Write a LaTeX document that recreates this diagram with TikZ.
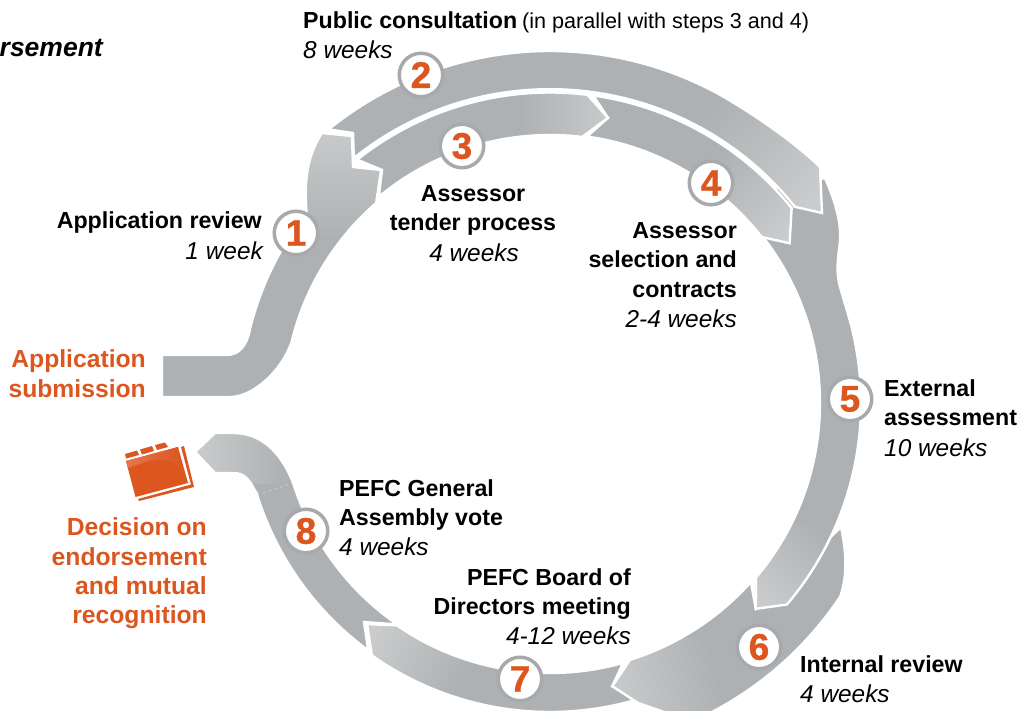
\documentclass[tikz,border=0pt]{standalone}
\usepackage{fontspec}
\setmainfont{Liberation Sans}
\newfontfamily\numfont[FakeBold=1]{Liberation Sans Bold}
\definecolor{band}{HTML}{AEB1B3}
\definecolor{bandlight}{HTML}{C9CBCC}
\definecolor{ringc}{HTML}{A7A9AC}
\definecolor{pefc}{HTML}{DC5620}
\tikzset{
  stepnum/.style={circle,draw=ringc,line width=3.5pt,fill=white,minimum size=43.5pt,inner sep=0pt,text=pefc,font=\fontsize{37}{37}\selectfont\numfont},
  ttl/.style={inner sep=0pt,font=\fontsize{23.2}{23.2}\selectfont\bfseries,text=black},
  dur/.style={inner sep=0pt,font=\fontsize{24.4}{24.4}\selectfont\itshape,text=black},
  org/.style={inner sep=0pt,font=\fontsize{24.7}{24.7}\selectfont\bfseries,text=pefc},
  gap/.style={draw=white,line width=2.4pt,line join=miter}
}
\newcommand{\bandseg}[4]{%
  \begin{scope}
    \clip #1;
    \fill[band] (-600,-450) rectangle (600,450);
    \shade[bottom color=bandlight,top color=band,shading angle=#4] #2 rectangle #3;
  \end{scope}
  \draw[gap] #1;
}
\begin{document}
\begin{tikzpicture}[x=1pt,y=-1pt]
\clip (0,0) rectangle (1024,711);
\fill[white] (0,0) rectangle (1024,711);

% Band shapes: origin at the centre of the ring; polar angles run clockwise on screen
\begin{scope}[shift={(550,403)}]
% segment 8
\bandseg{(124.6:269) arc[start angle=124.6,end angle=162.7,radius=269] .. controls (-270,47) and (-290,30) .. (-317,30) -- (-335,30) -- (-355,49) -- (-335,70) -- (-317,70) .. controls (-305,70) and (-300,77) .. (-293,92) -- (162.6:307) arc[start angle=162.6,end angle=126.3,radius=307] -- (-186,219) -- cycle}{(-355,25)}{(-265,80)}{-90}
% segment 7
\bandseg{(74.3:270) arc[start angle=74.3,end angle=124.6,radius=270] -- (129.6:287) -- (125.2:309) arc[start angle=125.2,end angle=73.8,radius=309] -- (77.6:290) -- cycle}{(-188,215)}{(-80,300)}{-120}
% segment 6
\bandseg{(291,124) .. controls (296,147) and (298,172) .. (290,194) arc[start angle=33.8,end angle=66,radius=349] -- (88,300) -- (77.6:290) -- (72.7:269) arc[start angle=72.7,end angle=41.7,radius=269] -- (45:291) -- cycle}{(56,235)}{(170,325)}{-75}
% segment 5
\bandseg{(275,-225) .. controls (287,-198) and (291,-178) .. (290,-163) .. controls (289,-148) and (285,-135) .. (290,-116) -- (344:311) arc[start angle=344,end angle=400.4,radius=311] -- (45:291) -- (40.3:270) arc[start angle=40.3,end angle=-40,radius=270] -- (-45:300) -- cycle}{(200,120)}{(290,212)}{-45}
% segment 2
\bandseg{(231:352) arc[start angle=231,end angle=300,radius=352] .. controls (206,-287) and (243,-262) .. (270,-236) -- (272,-190) -- (321.3:313.8) arc[start angle=321.3,end angle=231.3,radius=313.8] -- (-197,-270) -- cycle}{(140,-313)}{(280,-183)}{45}
% segment 4
\bandseg{(278:310.5) arc[start angle=278,end angle=321.1,radius=310.5] -- (326.3:288) -- (321.9:269) arc[start angle=321.9,end angle=277.9,radius=269] -- (281.5:291) -- cycle}{(140,-253)}{(250,-153)}{45}
% segment 3
\bandseg{(231.6:310.5) arc[start angle=231.6,end angle=276.9,radius=310.5] -- (281.5:291) -- (276.9:268) arc[start angle=276.9,end angle=230.3,radius=268] -- (-168,-233) -- cycle}{(-30,-313)}{(62,-263)}{90}
% segment 1
\bandseg{(-388,-48) -- (-324,-48) .. controls (-310,-48) and (-303,-58) .. (194:309) arc[start angle=194,end angle=218,radius=309] .. controls (-245,-213) and (-246,-243) .. (-228,-270) -- (-198,-267) -- (-197,-236) -- (-169,-233) -- (229:265) arc[start angle=229,end angle=193.6,radius=268] .. controls (-267,-35) and (-295,-6) .. (-320,-6) -- (-388,-6) -- cycle}{(-250,-278)}{(-165,-163)}{180}
% faint seam in segment 8
\draw[white,opacity=.45,line width=.5pt,dashed] (-293,92) -- (-257,80);
\end{scope}

% step circles
\node[stepnum] (n1) at (296,233) {1};
\node[stepnum] (n2) at (421,75) {2};
\node[stepnum] (n3) at (462,146) {3};
\node[stepnum] (n4) at (711,183) {4};
\node[stepnum] (n5) at (850,399) {5};
\node[stepnum] (n6) at (759,647) {6};
\node[stepnum] (n7) at (520,679) {7};
\node[stepnum] (n8) at (306,531) {8};

% folder
\fill[pefc] (181,447) -- (184,446) -- (194,487) -- (139,501) -- (138,499) -- (191,484.5) -- cycle;
\fill[pefc] (126,461) -- (178,447) -- (188,483) -- (135.5,497) -- cycle;
\fill[pefc] (125,454) -- (137,450.5) -- (139,455) -- (126,458.5) -- cycle;
\fill[pefc] (140,449.5) -- (152,446) -- (154,451) -- (142,454.5) -- cycle;
\fill[pefc] (155,445) -- (165,442.5) -- (168,447) -- (157,450) -- cycle;
\begin{scope}
\clip (126,461) -- (178,447) -- (182,470) .. controls (168,452) and (145,462) .. (128,468) -- cycle;
\shade[left color=pefc!80!white,right color=pefc] (125,440) rectangle (182,475);
\end{scope}

% labels
\node[anchor=base east,inner sep=0pt,font=\fontsize{26.5}{26.5}\selectfont\bfseries\itshape] (t0) at (103,57) {rsement};
\node[ttl,anchor=base west] (t2) at (303,29) {Public consultation};
\node[inner sep=0pt,anchor=base west,font=\fontsize{21.6}{21.6}\selectfont] (t2b) at (522,29) {(in parallel with steps 3 and 4)};
\node[dur,anchor=base west] (d2) at (303,59) {8 weeks};
\node[ttl,anchor=base east] (t1) at (262,229) {Application review};
\node[dur,anchor=base east] (d1) at (263,259) {1 week};
\node[ttl,anchor=base] (t3a) at (473,202) {Assessor};
\node[ttl,anchor=base] (t3b) at (473,231) {tender process};
\node[dur,anchor=base] (d3) at (474,261) {4 weeks};
\node[ttl,anchor=base east] (t4a) at (737,238) {Assessor};
\node[ttl,anchor=base east] (t4b) at (737,267) {selection and};
\node[ttl,anchor=base east] (t4c) at (737,297) {contracts};
\node[dur,anchor=base east] (d4) at (737,327) {2-4 weeks};
\node[ttl,anchor=base west] (t5a) at (884,396) {External};
\node[ttl,anchor=base west] (t5b) at (884,425) {assessment};
\node[dur,anchor=base west] (d5) at (884,456) {10 weeks};
\node[ttl,anchor=base west] (t6) at (800,672) {Internal review};
\node[dur,anchor=base west] (d6) at (800,702) {4 weeks};
\node[ttl,anchor=base east] (t7a) at (631,585) {PEFC Board of};
\node[ttl,anchor=base east] (t7b) at (631,614) {Directors meeting};
\node[dur,anchor=base east] (d7) at (631,644) {4-12 weeks};
\node[ttl,anchor=base west] (t8a) at (339,496) {PEFC General};
\node[ttl,anchor=base west] (t8b) at (339,525) {Assembly vote};
\node[dur,anchor=base west] (d8) at (339,555) {4 weeks};
\node[org,anchor=base east] (o1) at (146,367) {Application};
\node[org,anchor=base east] (o2) at (146,397) {submission};
\node[org,anchor=base east] (o3) at (207,535) {Decision on};
\node[org,anchor=base east] (o4) at (207,565) {endorsement};
\node[org,anchor=base east] (o5) at (207,594) {and mutual};
\node[org,anchor=base east] (o6) at (207,623) {recognition};
\end{tikzpicture}
\end{document}
